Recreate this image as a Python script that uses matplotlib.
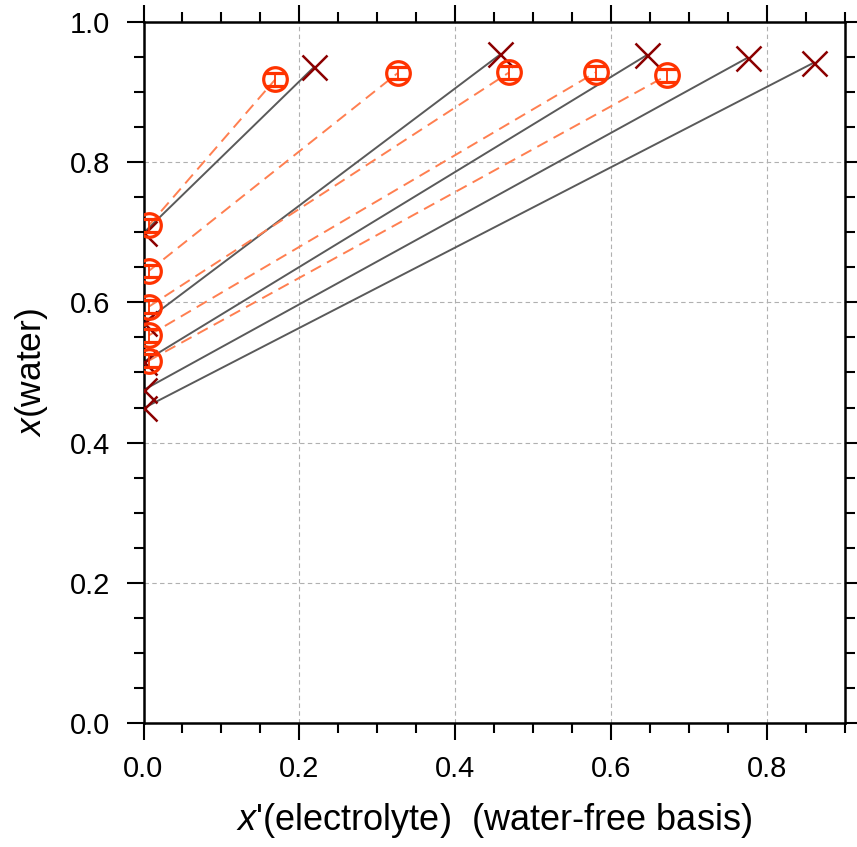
import matplotlib
matplotlib.use("Agg")
import matplotlib.pyplot as plt
from matplotlib.ticker import MultipleLocator

# Calculated tie lines (solid): left end at x'=0, right end
calc_left_y = [0.699, 0.571, 0.515, 0.475, 0.449]
calc_right_x = [0.219, 0.458, 0.646, 0.775, 0.860]
calc_right_y = [0.936, 0.954, 0.953, 0.949, 0.942]

# Experimental tie lines (dashed, circles with error bars)
exp_left_x = [0.007, 0.007, 0.007, 0.007, 0.007]
exp_left_y = [0.710, 0.645, 0.594, 0.553, 0.517]
exp_right_x = [0.169, 0.326, 0.469, 0.580, 0.672]
exp_right_y = [0.918, 0.927, 0.928, 0.928, 0.924]
exp_err = 0.009

xticks = [0.0, 0.2, 0.4, 0.6, 0.8]
yticks = [0.0, 0.2, 0.4, 0.6, 0.8, 1.0]

plt.rcParams['font.family'] = ['Liberation Sans', 'DejaVu Sans']
plt.rcParams['mathtext.fontset'] = 'custom'
plt.rcParams['mathtext.rm'] = 'Liberation Sans'
plt.rcParams['mathtext.it'] = 'Liberation Sans:italic'

fig = plt.figure(figsize=(8.57, 8.47), dpi=100)
ax = fig.add_axes([143.5/857, 124/847, 701.5/857, 701/847])

calc_col = '#5a5a5a'
xcol = '#8b0000'
dash_col = '#ff7f50'
circ_col = '#ff3300'

for i in range(len(calc_left_y)):
    ax.plot([0.0, calc_right_x[i]], [calc_left_y[i], calc_right_y[i]],
            color=calc_col, lw=1.4, zorder=2)
ax.plot([0.0]*len(calc_left_y), calc_left_y, ls='none', marker='x',
        ms=18, mew=1.8, color=xcol, zorder=3)
ax.plot(calc_right_x, calc_right_y, ls='none', marker='x',
        ms=18, mew=1.8, color=xcol, zorder=3)

for i in range(len(exp_left_y)):
    ax.plot([exp_left_x[i], exp_right_x[i]], [exp_left_y[i], exp_right_y[i]],
            color=dash_col, lw=1.4, ls=(0, (6, 3.5)), zorder=2)
for xs, ys in ((exp_left_x, exp_left_y), (exp_right_x, exp_right_y)):
    ax.errorbar(xs, ys, yerr=exp_err, ls='none', marker='o', ms=17,
                mfc='none', mec=circ_col, mew=2.3, ecolor=circ_col,
                elinewidth=1.3, capsize=7, capthick=1.3, zorder=4)

ax.set_xlim(0, 0.9)
ax.set_ylim(0, 1.0)
ax.set_xticks(xticks)
ax.set_yticks(yticks)
ax.set_xticklabels([f"{v:.1f}" for v in xticks])
ax.set_yticklabels([f"{v:.1f}" for v in yticks])
ax.xaxis.set_minor_locator(MultipleLocator(0.05))
ax.yaxis.set_minor_locator(MultipleLocator(0.05))
ax.tick_params(which='both', direction='out', top=True, right=True,
               width=1.5, labelsize=21)
ax.tick_params(which='major', length=12)
ax.tick_params(which='minor', length=7)
ax.tick_params(axis='x', pad=11)
ax.tick_params(axis='y', pad=12)
for s in ax.spines.values():
    s.set_linewidth(1.8)
ax.grid(True, which='major', ls=(0, (4, 3)), color='#b0b0b0', lw=0.8)
ax.set_axisbelow(True)

ax.set_xlabel(r"$\mathit{x}$'(electrolyte)  (water-free basis)",
              fontsize=26, labelpad=13)
ax.set_ylabel(r"$\mathit{x}$(water)", fontsize=25.5, labelpad=14)

fig.savefig("out.png", dpi=100)
